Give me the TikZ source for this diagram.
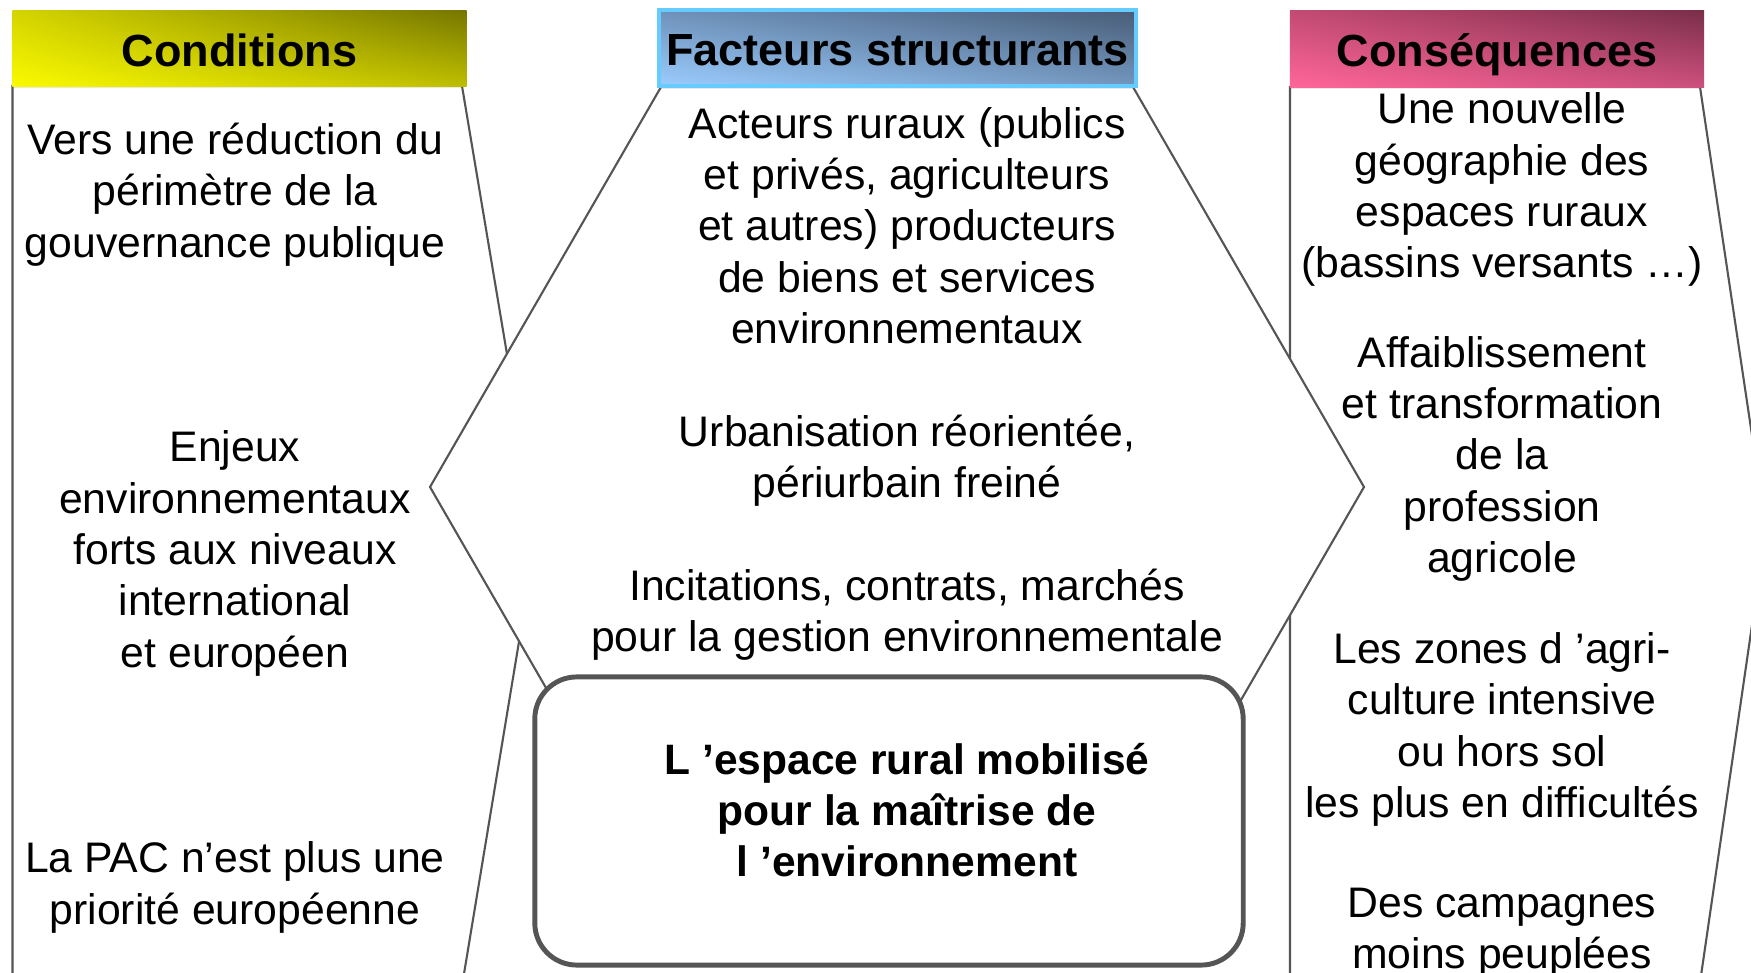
\documentclass[tikz,border=0pt]{standalone}
\usepackage{fontspec}
\setmainfont{Liberation Sans}
\usetikzlibrary{positioning,shadings}

\definecolor{trait}{HTML}{555555}
\definecolor{bord}{HTML}{555555}
\definecolor{ciel}{HTML}{66CCFF}

\begin{document}
\begin{tikzpicture}[x=0.01cm,y=-0.01cm,
	panneau/.style={draw=trait,line width=0.6pt,fill=white},
	entete/.style={inner sep=0pt,minimum height=0.76cm,text height=11pt,text depth=1pt,font=\fontsize{12.8}{15}\selectfont\bfseries},
	texte/.style={align=center,inner sep=0pt,text depth=0pt,font=\fontsize{12.15}{14.6}\selectfont},
	gras/.style={texte,font=\fontsize{12.1}{14.6}\selectfont\bfseries},
	cadre/.style={draw=bord,line width=1.4pt,fill=white,rounded corners=0.42cm,minimum width=7.08cm,minimum height=2.88cm}]
	\useasboundingbox (0,0) rectangle (1751,973);
	\clip (0,0) rectangle (1751,973);

	\draw[panneau] (12.5,86) -- (462,86) -- (537,533) -- (458,1010) -- (12.5,1010) -- cycle;
	\draw[panneau] (1290,87) -- (1700,87) -- (1766,529) -- (1696,1010) -- (1290,1010) -- cycle;
	\draw[panneau] (661,87) -- (1133,87) -- (1364,487) -- (1133,887) -- (661,887) -- (430,487) -- cycle;
	\node[cadre]	(cadre)	at (889,821)	{};

	\node[entete,minimum width=4.54cm,lower left={rgb,255:red,250;green,250;blue,0},upper left={rgb,255:red,212;green,212;blue,0},lower right={rgb,255:red,190;green,190;blue,0},upper right={rgb,255:red,118;green,118;blue,0}]	(conditions)	at (239.5,48.5)	{Conditions};
	\node[entete,minimum width=4.77cm,draw=ciel,line width=1pt,lower left={rgb,255:red,155;green,205;blue,255},upper left={rgb,255:red,110;green,145;blue,185},lower right={rgb,255:red,115;green,150;blue,190},upper right={rgb,255:red,72;green,92;blue,118}]	(facteurs)	at (897.5,48)	{Facteurs structurants};
	\node[entete,minimum width=4.14cm,lower left={rgb,255:red,255;green,102;blue,153},upper left={rgb,255:red,195;green,75;blue,115},lower right={rgb,255:red,205;green,80;blue,125},upper right={rgb,255:red,122;green,46;blue,74}]	(consequences)	at (1497,49)	{Conséquences};

	\node[texte]	(gouvernance)	at (235,190)	{Vers une réduction du\\périmètre de la\\gouvernance publique};
	\node[texte]	(enjeux)	at (235,549)	{Enjeux\\environnementaux\\forts aux niveaux\\international\\et européen};
	\node[texte]	(pac)	at (235,883)	{La PAC n’est plus une\\priorité européenne};

	\node[texte]	(acteurs)	at (907,225.5)	{Acteurs ruraux (publics\\et privés, agriculteurs\\et autres) producteurs\\de biens et services\\environnementaux};
	\node[texte]	(urbanisation)	at (907,456.5)	{Urbanisation réorientée,\\périurbain freiné};
	\node[texte]	(incitations)	at (907,610.5)	{Incitations, contrats, marchés\\pour la gestion environnementale};
	\node[gras]	(espace)	at (907,810)	{L ’espace rural mobilisé\\pour la maîtrise de\\l ’environnement};

	\node[texte]	(geographie)	at (1502,185.5)	{Une nouvelle\\géographie des\\espaces ruraux\\(bassins versants …)};
	\node[texte]	(profession)	at (1502,454.5)	{Affaiblissement\\et transformation\\de la\\profession\\agricole};
	\node[texte]	(zones)	at (1502,725)	{Les zones d ’agri-\\culture intensive\\ou hors sol\\les plus en difficultés};
	\node[texte]	(campagnes)	at (1502,928)	{Des campagnes\\moins peuplées};
\end{tikzpicture}
\end{document}
